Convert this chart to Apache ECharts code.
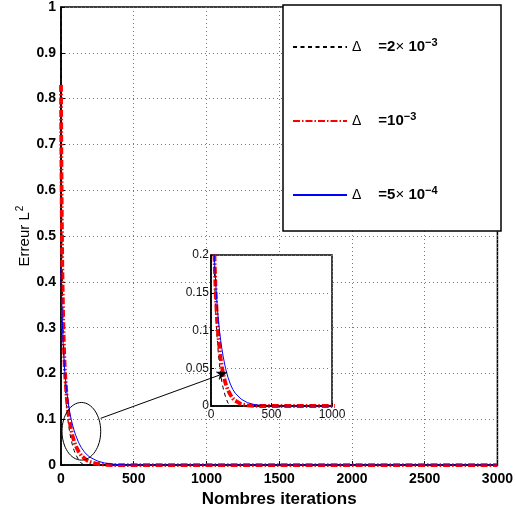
<!DOCTYPE html>
<html>
<head>
<meta charset="utf-8">
<script src="https://cdn.jsdelivr.net/npm/echarts@6/dist/echarts.min.js"></script>
<style>
  html, body { margin: 0; padding: 0; background: #fff; }
  #chart { width: 516px; height: 513px; }
</style>
</head>
<body>
<div id="chart"></div>
<script>
// Iteration counts at which the L2 error was recorded
const iterations = [0, 2, 5, 8, 10, 15, 20, 25, 30, 40, 50, 60, 70, 80, 90, 100, 120, 140, 160, 180, 200, 250, 300, 350, 400, 450, 500, 600, 800, 1000, 1500, 2000, 2500, 3000];

// L2 error for each time step Delta
const errDelta2e3 = [1.0, 0.78, 0.56, 0.44, 0.39, 0.30, 0.24, 0.20, 0.165, 0.122, 0.092, 0.071, 0.055, 0.042, 0.032, 0.024, 0.012, 0.004, 0, 0, 0, 0, 0, 0, 0, 0, 0, 0, 0, 0, 0, 0, 0, 0];
const errDelta1e3 = [0.83, 0.70, 0.56, 0.46, 0.41, 0.32, 0.26, 0.22, 0.19, 0.145, 0.115, 0.094, 0.077, 0.063, 0.052, 0.043, 0.030, 0.021, 0.015, 0.010, 0.007, 0.0025, 0.0008, 0.0002, 0, 0, 0, 0, 0, 0, 0, 0, 0, 0];
const errDelta5e4 = [0.43, 0.40, 0.36, 0.325, 0.305, 0.265, 0.235, 0.21, 0.19, 0.16, 0.135, 0.115, 0.10, 0.087, 0.076, 0.066, 0.050, 0.038, 0.029, 0.022, 0.017, 0.009, 0.0045, 0.0022, 0.001, 0.0005, 0.0002, 0, 0, 0, 0, 0, 0, 0];

// Axis ticks
const mainXTicks = [0, 500, 1000, 1500, 2000, 2500, 3000];
const mainYTicks = [0, 0.1, 0.2, 0.3, 0.4, 0.5, 0.6, 0.7, 0.8, 0.9, 1];
const zoomXTicks = [0, 500, 1000];
const zoomYTicks = [0, 0.05, 0.1, 0.15, 0.2];

// Legend entries
const seriesNames = ['d2e3', 'd1e3', 'd5e4'];
const legendTexts = {
  d2e3: '{d|\u0394}{b|=2}{n|\u00d7}{b| 10}{s|\u22123}',
  d1e3: '{d|\u0394}{b|=10}{s|\u22123}',
  d5e4: '{d|\u0394}{b|=5}{n|\u00d7}{b| 10}{s|\u22124}'
};

const FONT = '"Liberation Sans", Arial, Helvetica, sans-serif';

const styles = {
  d2e3: { color: '#000000', width: 1, type: [4, 3.5] },
  d1e3: { color: '#ff0000', width: 3.8, type: [7, 2, 1.5, 2] },
  d5e4: { color: '#0000ff', width: 1, type: 'solid' }
};
const seriesData = {
  d2e3: errDelta2e3,
  d1e3: errDelta1e3,
  d5e4: errDelta5e4
};

function pairs(ys) {
  return iterations.map((x, i) => [x, ys[i]]);
}

function makeSeries(name, gridIdx, z) {
  const st = styles[name];
  return {
    name: name,
    type: 'line',
    xAxisIndex: gridIdx,
    yAxisIndex: gridIdx,
    data: pairs(seriesData[name]),
    symbol: 'none',
    showSymbol: false,
    clip: true,
    z: z,
    animation: false,
    itemStyle: { color: st.color },
    lineStyle: { color: st.color, width: st.width, type: st.type }
  };
}

const dottedGrid = { show: true, lineStyle: { color: '#777', width: 1, type: [1, 3] } };
const plainNumber = v => String(Math.round(v * 100) / 100);

const chart = echarts.init(document.getElementById('chart'), null, { renderer: 'canvas' });

const option = {
  backgroundColor: '#fff',
  animation: false,
  grid: [
    { left: 61, top: 6, width: 440, height: 461, show: true, borderColor: '#000', borderWidth: 1.5, backgroundColor: 'transparent' },
    { left: 211, top: 255, width: 121, height: 151, show: true, borderColor: '#000', borderWidth: 1.5, backgroundColor: '#fff', z: 3 }
  ],
  xAxis: [
    {
      gridIndex: 0, type: 'value',
      min: mainXTicks[0], max: mainXTicks[mainXTicks.length - 1],
      interval: mainXTicks[1] - mainXTicks[0],
      axisLine: { show: true, lineStyle: { color: '#000', width: 1.5 } },
      axisTick: { show: true, inside: true, length: 4, lineStyle: { color: '#000' } },
      splitLine: dottedGrid,
      axisLabel: { color: '#000', fontFamily: FONT, fontWeight: 'bold', fontSize: 14, margin: 7, formatter: plainNumber },
      name: 'Nombres iterations',
      nameLocation: 'middle',
      nameGap: 23,
      nameTextStyle: { color: '#000', fontFamily: FONT, fontWeight: 'bold', fontSize: 17 }
    },
    {
      gridIndex: 1, type: 'value',
      min: zoomXTicks[0], max: zoomXTicks[zoomXTicks.length - 1],
      interval: zoomXTicks[1] - zoomXTicks[0],
      z: 4,
      axisLine: { show: true, lineStyle: { color: '#000', width: 1.5 } },
      axisTick: { show: true, inside: true, length: 3, lineStyle: { color: '#000' } },
      splitLine: dottedGrid,
      axisLabel: { color: '#111', fontFamily: FONT, fontSize: 12, margin: 3, formatter: plainNumber }
    }
  ],
  yAxis: [
    {
      gridIndex: 0, type: 'value',
      min: mainYTicks[0], max: mainYTicks[mainYTicks.length - 1],
      interval: 0.1,
      axisLine: { show: true, lineStyle: { color: '#000', width: 1.5 } },
      axisTick: { show: true, inside: true, length: 4, lineStyle: { color: '#000' } },
      splitLine: dottedGrid,
      axisLabel: { color: '#000', fontFamily: FONT, fontWeight: 'bold', fontSize: 14, margin: 5, formatter: plainNumber },
      name: 'Erreur L{s|2}',
      nameLocation: 'middle',
      nameGap: 27,
      nameMoveOverlap: false,
      nameTextStyle: {
        color: '#000', fontFamily: FONT, fontSize: 15,
        rich: { s: { fontFamily: FONT, fontSize: 10, color: '#000', padding: [0, 0, 9, 1] } }
      }
    },
    {
      gridIndex: 1, type: 'value',
      min: zoomYTicks[0], max: zoomYTicks[zoomYTicks.length - 1],
      interval: 0.05,
      z: 4,
      axisLine: { show: true, lineStyle: { color: '#000', width: 1.5 } },
      axisTick: { show: true, inside: true, length: 3, lineStyle: { color: '#000' } },
      splitLine: dottedGrid,
      axisLabel: { color: '#111', fontFamily: FONT, fontSize: 12, margin: 2, formatter: plainNumber }
    }
  ],
  legend: {
    data: seriesNames,
    orient: 'vertical',
    left: 292,
    top: 37,
    padding: 0,
    itemGap: 54,
    itemWidth: 54,
    itemHeight: 14,
    z: 6,
    selectedMode: false,
    itemStyle: { color: 'rgba(0,0,0,0)', borderWidth: 0, opacity: 0 },
    formatter: name => legendTexts[name],
    textStyle: {
      color: '#000', fontFamily: FONT, fontSize: 15, lineHeight: 20,
      rich: {
        d: { fontFamily: FONT, fontSize: 14, color: '#000', padding: [0, 17, 0, 0], lineHeight: 20 },
        b: { fontFamily: FONT, fontSize: 15, fontWeight: 'bold', color: '#000', lineHeight: 20 },
        n: { fontFamily: FONT, fontSize: 15, color: '#000', lineHeight: 20 },
        s: { fontFamily: FONT, fontSize: 11, fontWeight: 'bold', color: '#000', padding: [0, 0, 9, 0], lineHeight: 20 }
      }
    }
  },
  series: [
    makeSeries('d2e3', 0, 2),
    makeSeries('d1e3', 0, 2),
    makeSeries('d5e4', 0, 2),
    makeSeries('d2e3', 1, 5),
    makeSeries('d1e3', 1, 5),
    makeSeries('d5e4', 1, 5)
  ]
};

chart.setOption(option);

// Annotations: ellipse around the early-iteration region and an arrow to the zoomed view
function buildAnnotations() {
  const c = chart.convertToPixel({ gridIndex: 0 }, [140, 0.0738]);
  const cx = chart.convertToPixel({ gridIndex: 0 }, [140 + 133, 0.0738]);
  const cy = chart.convertToPixel({ gridIndex: 0 }, [140, 0.0738 + 0.0629]);
  const rx = Math.abs(cx[0] - c[0]);
  const ry = Math.abs(cy[1] - c[1]);

  const a0 = chart.convertToPixel({ gridIndex: 0 }, [272, 0.102]);
  const a1 = chart.convertToPixel({ gridIndex: 1 }, [133, 0.0446]);
  const dx = a1[0] - a0[0], dy = a1[1] - a0[1];
  const len = Math.sqrt(dx * dx + dy * dy);
  const ux = dx / len, uy = dy / len;
  const headL = 10, headW = 4;
  const bx = a1[0] - ux * headL, by = a1[1] - uy * headL;
  const head = [
    [a1[0], a1[1]],
    [bx - uy * headW, by + ux * headW],
    [bx + ux * 2.5, by + uy * 2.5],
    [bx + uy * headW, by - ux * headW]
  ];

  chart.setOption({
    graphic: [
      {
        type: 'rect', z: 3,
        shape: { x: 283, y: 5, width: 218, height: 226 },
        style: { fill: '#fff', stroke: '#000', lineWidth: 1.5 }
      },
      {
        type: 'ellipse', z: 10,
        shape: { cx: c[0], cy: c[1], rx: rx, ry: ry },
        style: { fill: 'none', stroke: '#000', lineWidth: 1 }
      },
      {
        type: 'line', z: 10,
        shape: { x1: a0[0], y1: a0[1], x2: bx + ux * 2, y2: by + uy * 2 },
        style: { stroke: '#000', lineWidth: 1 }
      },
      {
        type: 'polygon', z: 10,
        shape: { points: head },
        style: { fill: '#000', stroke: '#000', lineWidth: 0.5 }
      }
    ]
  });
}
buildAnnotations();
</script>
</body>
</html>
